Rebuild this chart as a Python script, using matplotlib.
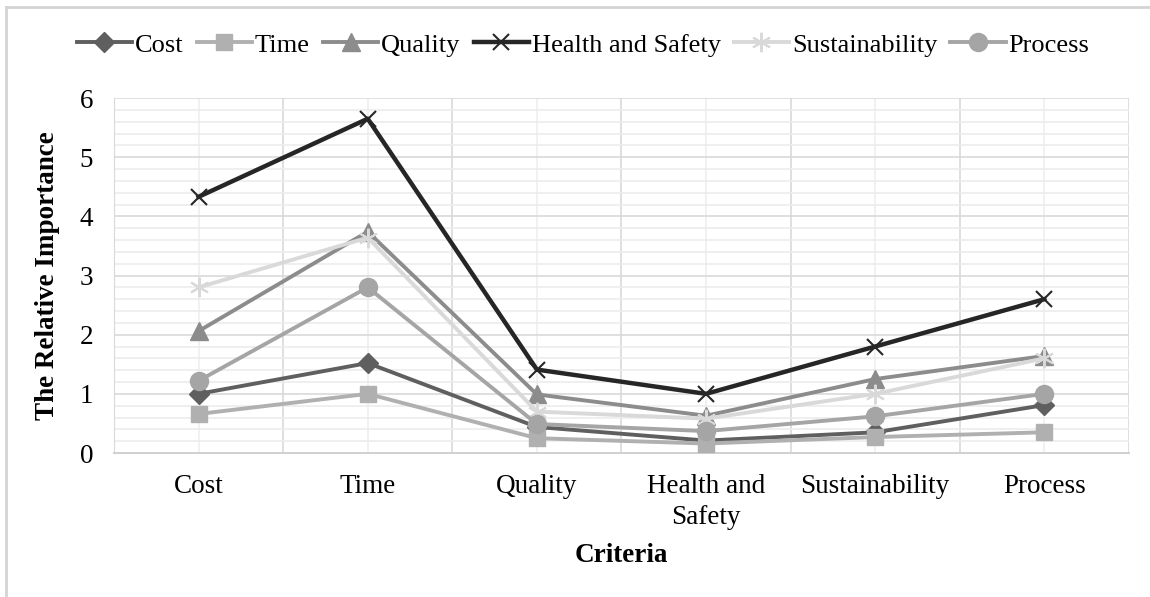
import matplotlib.pyplot as plt
from matplotlib.lines import Line2D
from matplotlib.ticker import MultipleLocator

plt.rcParams["font.family"] = ["Liberation Serif", "DejaVu Serif"]

criteria = ["Cost", "Time", "Quality", "Health and\nSafety", "Sustainability", "Process"]

cost = [1.0, 1.52, 0.44, 0.21, 0.35, 0.81]
time = [0.66, 1.0, 0.25, 0.16, 0.27, 0.35]
quality = [2.06, 3.74, 0.99, 0.63, 1.25, 1.64]
health_safety = [4.33, 5.65, 1.41, 1.0, 1.8, 2.6]
sustainability = [2.8, 3.64, 0.7, 0.58, 1.0, 1.6]
process = [1.22, 2.8, 0.49, 0.37, 0.62, 1.0]

series = [
    ("Cost", cost, "#5f5f5f", "D", 10.5),
    ("Time", time, "#b0b0b0", "s", 12),
    ("Quality", quality, "#8c8c8c", "^", 13),
    ("Health and Safety", health_safety, "#262626", "x", 12),
    ("Sustainability", sustainability, "#d9d9d9", (6, 2, 0), 14),
    ("Process", process, "#a5a5a5", "o", 13),
]

fig = plt.figure(figsize=(11.5, 5.97), dpi=100)
ax = fig.add_axes([0.0991, 0.2412, 0.8826, 0.5946])

x = list(range(len(criteria)))
for name, vals, color, marker, ms in series:
    ax.plot(x, vals, color=color, linewidth=2.8 if name != "Health and Safety" else 3.2,
            marker=marker, markersize=ms, markeredgewidth=1.5 if marker in ("x", (6, 2, 0)) else 1,
            markeredgecolor=color, markerfacecolor=color, label=name, zorder=3)

ax.set_xlim(-0.5, 5.5)
ax.set_ylim(0, 6)
ax.set_xticks(x)
ax.set_xticklabels(criteria, fontsize=19.5, linespacing=1.3)
ax.set_xticks([i - 0.5 for i in range(len(criteria) + 1)], minor=True)
ax.yaxis.set_major_locator(MultipleLocator(1))
ax.yaxis.set_minor_locator(MultipleLocator(0.2))
ax.tick_params(axis="y", labelsize=19.5, length=0, pad=15)
ax.tick_params(axis="x", length=0, pad=15)
ax.tick_params(which="minor", length=0)

ax.grid(axis="x", which="minor", color="#d9d9d9", linewidth=1.2)
ax.grid(axis="x", which="major", color="#efefef", linewidth=1.2)
ax.grid(axis="y", which="major", color="#d9d9d9", linewidth=1.2)
ax.grid(axis="y", which="minor", color="#ececec", linewidth=1.2)
ax.set_axisbelow(True)

for side in ["top", "right"]:
    ax.spines[side].set_visible(False)
ax.spines["left"].set_color("#d9d9d9")
ax.spines["bottom"].set_color("#d0d0d0")
ax.spines["bottom"].set_linewidth(1.4)

ax.set_ylabel("The Relative Importance", fontsize=19.5, fontweight="bold", labelpad=14)
ax.set_xlabel("Criteria", fontsize=19.5, fontweight="bold", labelpad=10)

fig.legend(loc="center", bbox_to_anchor=(0.507, 1 - 45 / 597), ncol=6, frameon=False,
           fontsize=19, handlelength=2.1, handletextpad=0.1, columnspacing=0.5)

# chart area border (top and left edges visible)
top = 1 - 7 / 597
left = 5.5 / 1150
fig.add_artist(Line2D([left, 1.0], [top, top], transform=fig.transFigure,
                      color="#d4d4d4", linewidth=2))
fig.add_artist(Line2D([left, left], [0.0, top], transform=fig.transFigure,
                      color="#d4d4d4", linewidth=2))

fig.savefig("out.png", dpi=100)
